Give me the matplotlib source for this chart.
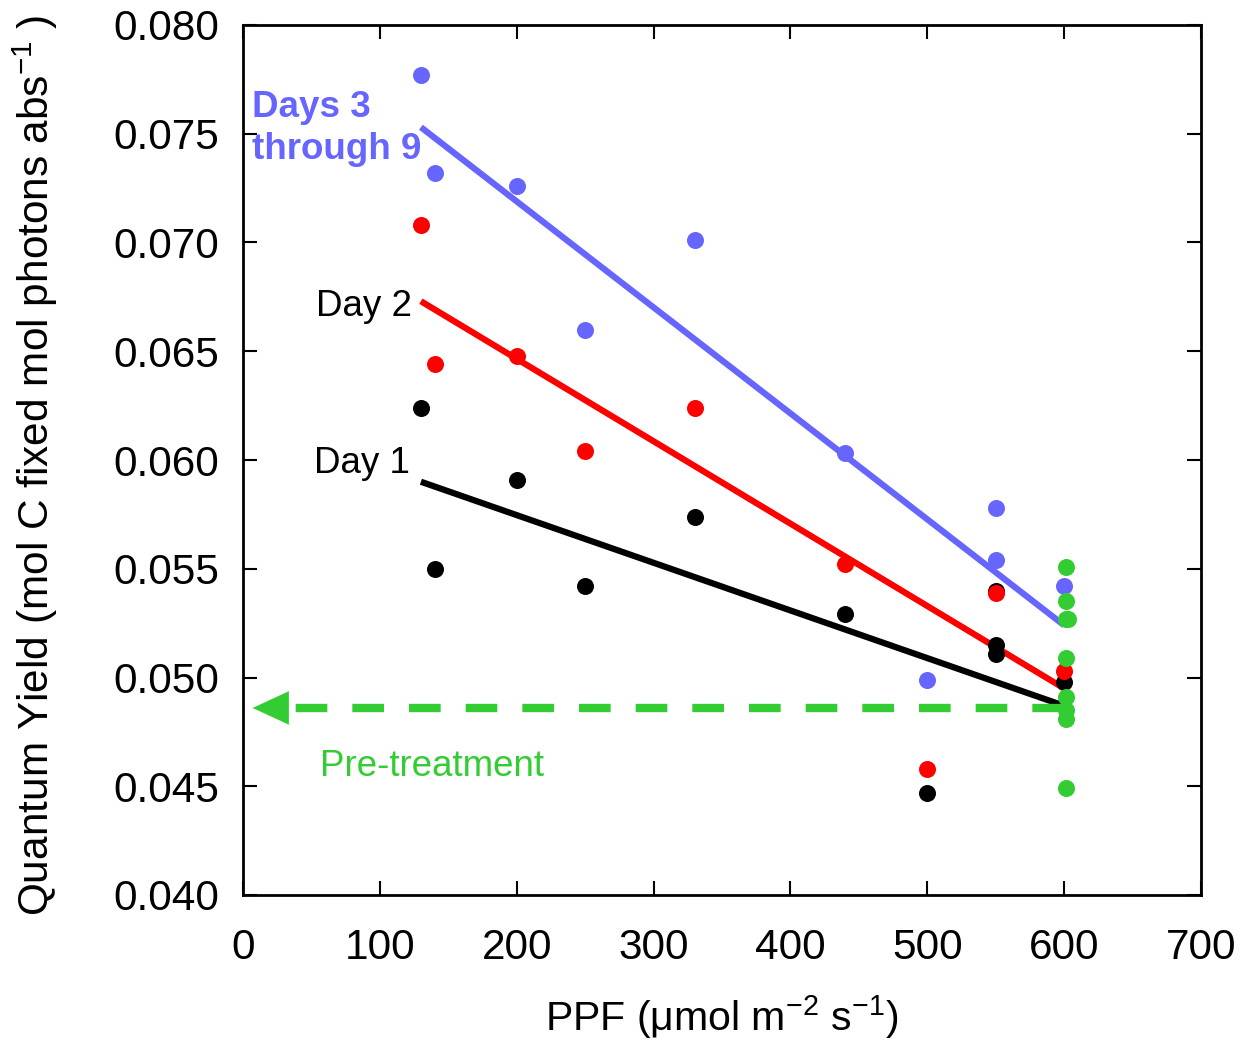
import matplotlib
matplotlib.use("Agg")
import matplotlib.pyplot as plt
import numpy as np

plt.rcParams['font.family'] = ['Liberation Sans', 'DejaVu Sans']
plt.rcParams['mathtext.fontset'] = 'custom'
plt.rcParams['mathtext.rm'] = 'Liberation Sans'
plt.rcParams['mathtext.it'] = 'Liberation Sans:italic'
plt.rcParams['mathtext.bf'] = 'Liberation Sans:bold'

# ---- data ----
day1_x = [130, 140, 200, 250, 330, 440, 500, 550, 550, 550, 600]
day1_y = [0.0624, 0.0550, 0.0591, 0.0542, 0.0574, 0.0529, 0.0447, 0.0540, 0.0515, 0.0511, 0.0498]

day2_x = [130, 140, 200, 250, 330, 440, 500, 550, 600]
day2_y = [0.0708, 0.0644, 0.0648, 0.0604, 0.0624, 0.0552, 0.0458, 0.0539, 0.0503]

days39_x = [130, 140, 200, 250, 330, 440, 500, 550, 550, 600]
days39_y = [0.0777, 0.0732, 0.0726, 0.0660, 0.0701, 0.0603, 0.0499, 0.0578, 0.0554, 0.0542]

pre_x = [601, 601, 601, 603, 601, 601, 601, 601, 601]
pre_y = [0.0551, 0.0535, 0.0527, 0.0527, 0.0509, 0.0491, 0.0485, 0.0481, 0.0449]

# fitted regression lines (endpoints)
fit_x = [130, 600]
fit_day1 = [0.0590, 0.0487]
fit_day2 = [0.0673, 0.0495]
fit_days39 = [0.0753, 0.0524]

pre_mean = 0.0486
arrow_x = [600, 7]

xticks = [0, 100, 200, 300, 400, 500, 600, 700]
yticks = [0.040, 0.045, 0.050, 0.055, 0.060, 0.065, 0.070, 0.075, 0.080]

BLUE = '#6666FF'
RED = '#FF0000'
BLACK = '#000000'
GREEN = '#33CC33'

fig = plt.figure(figsize=(12.45, 10.46), dpi=100)
ax = fig.add_axes([243/1245, 1-895/1046, (1201-243)/1245, (895-25)/1046])

lw = 4.5
ax.plot(fit_x, fit_days39, color=BLUE, lw=lw, zorder=2, solid_capstyle='butt')
ax.plot(fit_x, fit_day2, color=RED, lw=lw, zorder=2, solid_capstyle='butt')
ax.plot(fit_x, fit_day1, color=BLACK, lw=lw, zorder=2, solid_capstyle='butt')

# pre-treatment dashed arrow
ax.plot([arrow_x[0], arrow_x[1] + 28], [pre_mean, pre_mean], color=GREEN, lw=6,
        dashes=(3.8, 3.0), zorder=2, dash_capstyle='butt')
ax.annotate('', xy=(arrow_x[1], pre_mean), xytext=(arrow_x[1] + 27, pre_mean),
            arrowprops=dict(arrowstyle='-|>,head_length=1.3,head_width=0.6',
                            color=GREEN, lw=0.1, shrinkA=0, shrinkB=0,
                            mutation_scale=20), zorder=3)

ms = 150
ax.scatter(day1_x, day1_y, s=ms, color=BLACK, zorder=4, linewidths=0)
ax.scatter(day2_x, day2_y, s=ms, color=RED, zorder=5, linewidths=0)
ax.scatter(days39_x, days39_y, s=ms, color=BLUE, zorder=5, linewidths=0)
ax.scatter(pre_x, pre_y, s=ms, color=GREEN, zorder=6, linewidths=0)

fs_ann = 26.5
ax.text(6.6, 0.0770, 'Days 3\nthrough 9', color=BLUE, fontsize=fs_ann,
        fontweight='bold', ha='left', va='top', linespacing=1.25)
ax.text(123.5, 0.06662, 'Day 2', color=BLACK, fontsize=fs_ann, ha='right', va='baseline')
ax.text(122, 0.0594, 'Day 1', color=BLACK, fontsize=fs_ann, ha='right', va='baseline')
ax.text(56.3, 0.04547, 'Pre-treatment', color=GREEN, fontsize=fs_ann, ha='left', va='baseline')

ax.set_xlim(0, 700)
ax.set_ylim(0.040, 0.080)
ax.set_xticks(xticks)
ax.set_yticks(yticks)
ax.set_xticklabels([str(t) for t in xticks])
ax.set_yticklabels(['%.3f' % t for t in yticks])
ax.tick_params(direction='in', length=10, width=1.5, labelsize=30.5,
               top=True, right=True)
ax.tick_params(axis='x', pad=24)
ax.tick_params(axis='y', pad=17)
for s in ax.spines.values():
    s.set_linewidth(2)

ax.set_xlabel(r'PPF ($\mathregular{\mu}$mol m$^{\mathregular{-2}}$ s$^{\mathregular{-1}}$)',
              fontsize=29.5, va='top')
ax.set_ylabel(r'Quantum Yield (mol C fixed mol photons abs$^{\mathregular{-1}}$ )',
              fontsize=30.5, va='center')
ax.xaxis.set_label_coords((722 - 243) / 958, (895 - 993) / 870)
ax.yaxis.set_label_coords((35 - 243) / 958, (895 - 465) / 870)

fig.savefig('out.png', dpi=100)
